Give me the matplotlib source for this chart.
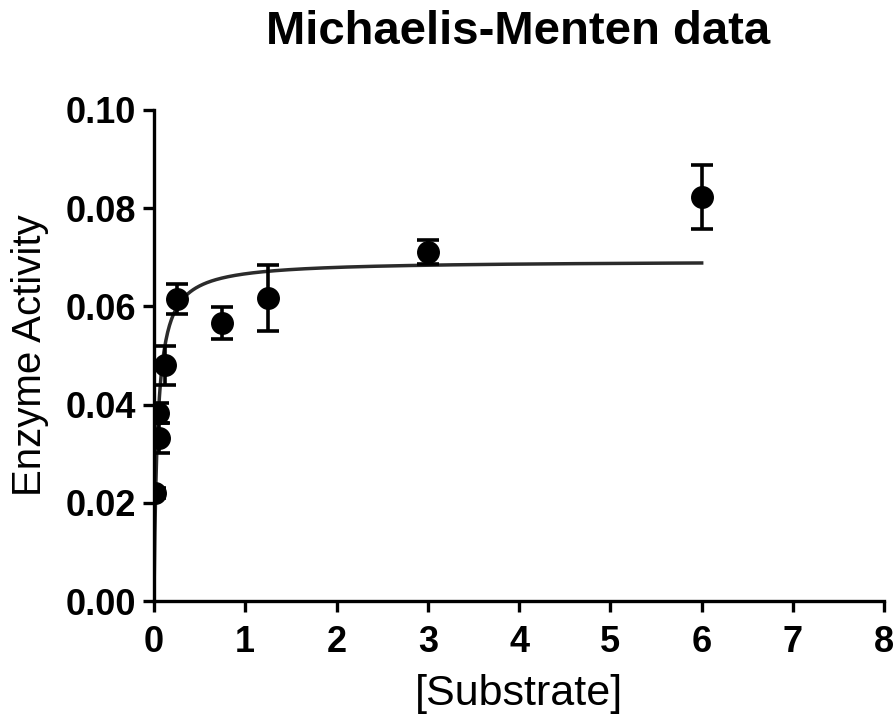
import numpy as np
import matplotlib.pyplot as plt

plt.rcParams['font.family'] = ['Liberation Sans', 'DejaVu Sans']

# measured points
substrate = [0.01, 0.04, 0.06, 0.125, 0.25, 0.75, 1.25, 3.0, 6.0]
activity = [0.0220, 0.0383, 0.0332, 0.0480, 0.0615, 0.0566, 0.0617, 0.0711, 0.0823]
sem = [0.0010, 0.0020, 0.0031, 0.0040, 0.0030, 0.0033, 0.0068, 0.0025, 0.0065]

# fitted Michaelis-Menten parameters
vmax = 0.0693
km = 0.040

fig = plt.figure(figsize=(8.95, 7.16), dpi=100)
ax = fig.add_axes([0.172, 0.1606, 0.816, 0.6858])

s = np.linspace(0, 6, 600)
ax.plot(s, vmax * s / (km + s), color='#2b2b2b', lw=2.5, zorder=2)
ax.errorbar(substrate, activity, yerr=sem, fmt='o', color='black', ms=15.5,
            elinewidth=2.6, capsize=8, capthick=2.6, zorder=3)

ax.set_xlim(0, 8)
ax.set_ylim(0, 0.10)
ax.set_xticks(range(0, 9))
ax.set_yticks([0.00, 0.02, 0.04, 0.06, 0.08, 0.10])
ax.set_yticklabels(['0.00', '0.02', '0.04', '0.06', '0.08', '0.10'])

for side in ['top', 'right']:
    ax.spines[side].set_visible(False)
for side in ['left', 'bottom']:
    ax.spines[side].set_linewidth(2.4)
ax.tick_params(width=2.4, length=8, direction='out', labelsize=26)
ax.tick_params(axis='x', pad=9)
ax.tick_params(axis='y', pad=5)
for lab in ax.get_xticklabels() + ax.get_yticklabels():
    lab.set_fontweight('bold')

ax.set_xlabel('[Substrate]', fontsize=31, labelpad=10)
ax.set_ylabel('Enzyme Activity', fontsize=29, labelpad=12)
fig.text(0.579, 0.956, 'Michaelis-Menten data', fontsize=34, fontweight='bold',
         ha='center', va='center')

fig.savefig('out.png', dpi=100)
